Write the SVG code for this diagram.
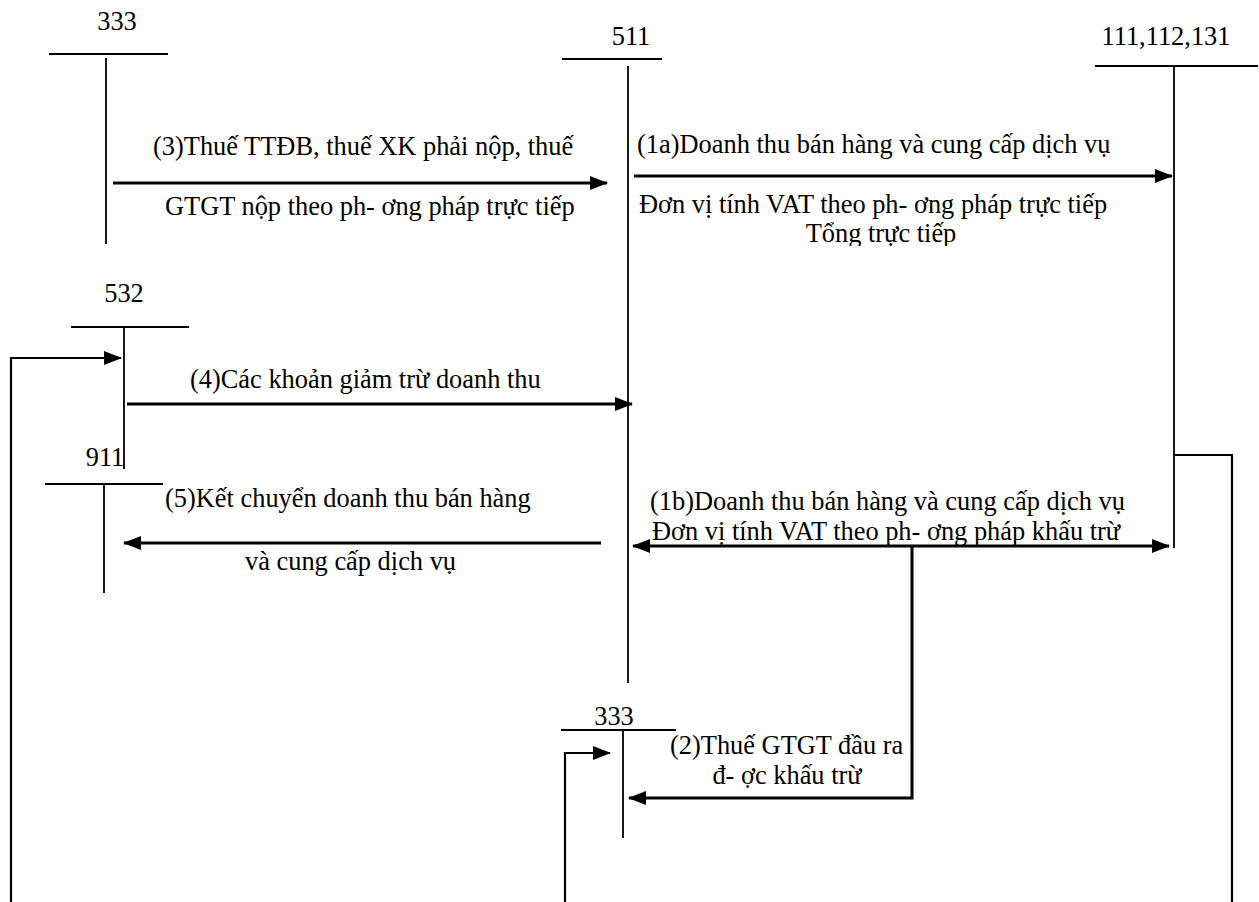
<svg xmlns="http://www.w3.org/2000/svg" width="1259" height="902" viewBox="0 0 1259 902">
<defs>
<marker id="ah" markerUnits="userSpaceOnUse" markerWidth="18" markerHeight="14" refX="17" refY="7" orient="auto-start-reverse" viewBox="0 0 18 14"><path d="M0,0 L18,7 L0,14 Z" fill="#000"/></marker>
<clipPath id="clipTop"><rect x="0" y="0" width="1259" height="246"/></clipPath>
</defs>
<style>
.acct{stroke:#000;stroke-width:1.8;fill:none}
.arr{stroke:#000;stroke-width:3;fill:none}
.ln{stroke:#000;stroke-width:2.2;fill:none}
.m{text-anchor:middle}
</style>
<rect width="1259" height="902" fill="#fff"/>
<g font-family="'Liberation Serif', 'Times New Roman', Tinos, 'DejaVu Serif', serif" font-size="26.4" fill="#000">
<g id="acc333top">
<text class="m" x="117" y="30">333</text>
<line class="acct" x1="49" y1="54" x2="168" y2="54"/>
<line class="acct" x1="106" y1="58" x2="106" y2="244"/>
</g>
<g id="acc511">
<text class="m" x="631" y="45">511</text>
<line class="acct" x1="562" y1="59" x2="662" y2="59"/>
<line class="acct" x1="628" y1="66" x2="628" y2="683"/>
</g>
<g id="acc111">
<text class="m" x="1166" y="45">111,112,131</text>
<line class="acct" x1="1095" y1="66" x2="1258" y2="66"/>
<line class="acct" x1="1174" y1="67" x2="1174" y2="548"/>
</g>
<g id="acc532">
<text class="m" x="124" y="302">532</text>
<line class="acct" x1="71" y1="327" x2="189" y2="327"/>
<line class="acct" x1="124" y1="327" x2="124" y2="469"/>
</g>
<g id="acc911">
<text class="m" x="105" y="466">911</text>
<line class="acct" x1="45" y1="484" x2="163" y2="484"/>
<line class="acct" x1="104" y1="485" x2="104" y2="593"/>
</g>
<g id="acc333bot">
<text class="m" x="614" y="725">333</text>
<line class="acct" x1="561" y1="730" x2="676" y2="730"/>
<line class="acct" x1="623" y1="731" x2="623" y2="838"/>
</g>
<g id="connectors">
<line class="arr" x1="113" y1="183" x2="607" y2="183" marker-end="url(#ah)"/>
<line class="arr" x1="634" y1="176" x2="1172" y2="176" marker-end="url(#ah)"/>
<polyline class="ln" points="11,902 11,358 121,358" marker-end="url(#ah)"/>
<line class="arr" x1="127" y1="404" x2="632" y2="404" marker-end="url(#ah)"/>
<line class="arr" x1="601" y1="543" x2="124" y2="543" marker-end="url(#ah)"/>
<line class="arr" x1="633" y1="546" x2="1169" y2="546" marker-start="url(#ah)" marker-end="url(#ah)"/>
<polyline class="arr" points="912,546 912,798 629,798" marker-end="url(#ah)"/>
<polyline class="ln" points="1174,455 1232,455 1232,902"/>
<polyline class="ln" points="565,902 565,753 610,753" marker-end="url(#ah)"/>
</g>
<g id="labels">
<text x="153" y="155">(3)Thuế TTĐB, thuế XK phải nộp, thuế</text>
<text x="165" y="215">GTGT nộp theo ph- ơng pháp trực tiếp</text>
<text x="637" y="153">(1a)Doanh thu bán hàng và cung cấp dịch vụ</text>
<text x="639" y="213">Đơn vị tính VAT theo ph- ơng pháp trực tiếp</text>
<text class="m" x="881" y="242" clip-path="url(#clipTop)">Tổng trực tiếp</text>
<text x="190" y="388">(4)Các khoản giảm trừ doanh thu</text>
<text x="165" y="507">(5)Kết chuyển doanh thu bán hàng</text>
<text x="245" y="570">và cung cấp dịch vụ</text>
<text x="650" y="510">(1b)Doanh thu bán hàng và cung cấp dịch vụ</text>
<text x="652" y="540">Đơn vị tính VAT theo ph- ơng pháp khấu trừ</text>
<text x="670" y="754">(2)Thuế GTGT đầu ra</text>
<text class="m" x="787" y="784">đ- ợc khấu trừ</text>
</g>
</g>
</svg>
